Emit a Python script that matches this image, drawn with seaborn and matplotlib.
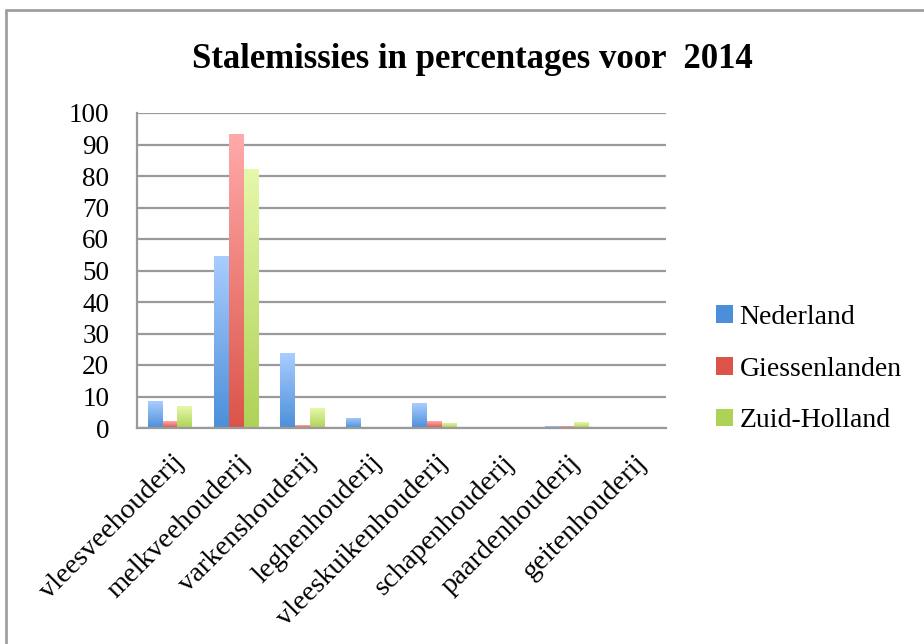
import numpy as np
import pandas as pd
import matplotlib
matplotlib.use("Agg")
import matplotlib.pyplot as plt
from matplotlib.colors import LinearSegmentedColormap
from matplotlib.lines import Line2D
from matplotlib.patches import Rectangle
import seaborn as sns

# Sectors (x categories)
categories = ["vleesveehouderij", "melkveehouderij", "varkenshouderij", "leghenhouderij",
              "vleeskuikenhouderij", "schapenhouderij", "paardenhouderij", "geitenhouderij"]
series = ["Nederland", "Giessenlanden", "Zuid-Holland"]

nederland = [8.5, 54.7, 23.7, 3.2, 7.9, 0.3, 0.6, 0.0]
giessenlanden = [2.2, 93.2, 0.9, 0.0, 2.2, 0.3, 0.6, 0.0]
zuid_holland = [6.9, 82.2, 6.3, 0.3, 1.6, 0.0, 1.9, 0.0]

y_ticks = [0, 10, 20, 30, 40, 50, 60, 70, 80, 90, 100]
title = "Stalemissies in percentages voor  2014"

df = pd.DataFrame({
    "sector": categories * 3,
    "regio": [s for s in series for _ in categories],
    "pct": nederland + giessenlanden + zuid_holland,
})

sns.set_style("white")
plt.rcParams["font.family"] = ["Liberation Serif", "DejaVu Serif"]
plt.rcParams["text.color"] = "black"
plt.rcParams["ytick.labelcolor"] = "black"

# gradient (top, bottom) per series
grad = {
    "Nederland": ("#aacdff", "#4b8fd9"),
    "Giessenlanden": ("#ffaaaa", "#dc5449"),
    "Zuid-Holland": ("#e6f8aa", "#aed256"),
}
mid = {k: v[1] for k, v in grad.items()}

fig = plt.figure(figsize=(9.24, 6.44), dpi=100)
ax = fig.add_axes([137 / 924, 1 - 428 / 644, (666 - 137) / 924, (428 - 113) / 644])

sns.barplot(data=df, x="sector", y="pct", hue="regio", order=categories,
            hue_order=series, palette=mid, width=0.67, ax=ax, legend=False,
            linewidth=0, saturation=1)

ax.set_xlabel("")
ax.set_ylabel("")

# vertical gradient fill on each bar
for cont, name in zip(ax.containers, series):
    cmap = LinearSegmentedColormap.from_list(name, [grad[name][1], grad[name][0]])
    for p in cont.patches:
        x0, y0 = p.get_x(), p.get_y()
        w, h = p.get_width(), p.get_height()
        if h <= 0:
            continue
        p.set_facecolor("none")
        img = ax.imshow(np.linspace(0, 1, 256).reshape(-1, 1), cmap=cmap, origin="lower",
                        extent=[x0, x0 + w, y0, y0 + h], aspect="auto", zorder=2.5,
                        interpolation="bilinear")
        img.set_clip_path(p)
ax.set_xlim(-0.5, len(categories) - 0.5)
ax.set_ylim(0, 100)
ax.set_aspect("auto")
ax.set_yticks(y_ticks)
ax.set_yticklabels([str(t) for t in y_ticks], fontsize=19.5, color="black")

# grid and spines
ax.grid(axis="y", color="#9a9a9a", linewidth=1.6)
ax.set_axisbelow(True)
for s in ["top", "right"]:
    ax.spines[s].set_visible(False)
for s in ["left", "bottom"]:
    ax.spines[s].set_color("#9a9a9a")
    ax.spines[s].set_linewidth(1.6)

# category boundaries as x ticks
ax.set_xticks(np.arange(-0.5, len(categories), 1.0), minor=False)
ax.set_xticklabels([])
ax.tick_params(axis="x", which="major", length=7, width=1.6, color="#9a9a9a", direction="out")
ax.tick_params(axis="y", length=7, width=1.6, color="#9a9a9a", direction="out", pad=13,
               labelcolor="black")
for i, c in enumerate(categories):
    ax.text(i + 0.02, -7, c, rotation=45, ha="right", va="top", rotation_mode="anchor",
            fontsize=20.5, color="black", transform=ax.transData)

fig.suptitle(title, x=(190 + 755) / 2 / 924, y=1 - 59 / 644, va="center",
             fontsize=25, fontweight="bold", color="black")

# legend
handles = [Rectangle((0, 0), 1, 1, facecolor=grad[s][1], edgecolor="none") for s in series]
leg = fig.legend(handles, series, loc="center left", bbox_to_anchor=(702 / 924, 1 - 369 / 644),
                 frameon=False, fontsize=20, labelspacing=0.97, handlelength=0.6,
                 handleheight=0.6, handletextpad=0.25, borderpad=0, labelcolor="black")

# outer chart frame (left and top edges)
fig.add_artist(Line2D([6 / 924, 6 / 924], [0, 1 - 10 / 644], color="#a0a0a0", lw=2,
                      transform=fig.transFigure))
fig.add_artist(Line2D([6 / 924, 1], [1 - 10 / 644, 1 - 10 / 644], color="#a0a0a0", lw=2,
                      transform=fig.transFigure))

fig.savefig("out.png", dpi=100)
